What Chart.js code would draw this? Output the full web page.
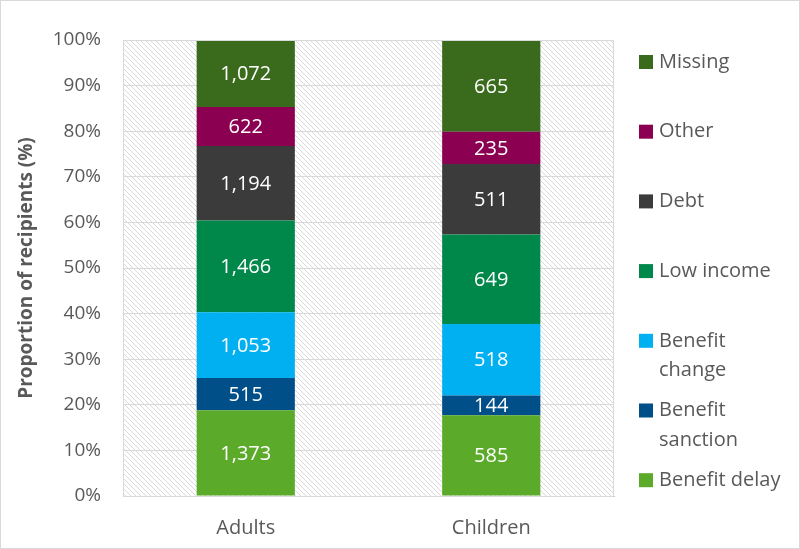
<!DOCTYPE html>
<html>
<head>
<meta charset="utf-8">
<script src="https://cdn.jsdelivr.net/npm/chart.js@4"></script>
<style>
  html, body { margin:0; padding:0; background:#fff; }
  #wrap { width:800px; height:549px; position:relative; }
</style>
</head>
<body>
<div id="wrap"><canvas id="chart"></canvas></div>
<script>
// ---------- DATA ----------
const groups = ["Adults", "Children"];
const reasons = ["Benefit delay", "Benefit sanction", "Benefit change", "Low income", "Debt", "Other", "Missing"];
const legendLines = [["Benefit delay"], ["Benefit", "sanction"], ["Benefit", "change"], ["Low income"], ["Debt"], ["Other"], ["Missing"]];
const adultCounts = [1373, 515, 1053, 1466, 1194, 622, 1072];
const childCounts = [585, 144, 518, 649, 511, 235, 665];
const colours = ["#5BAA2A", "#004F88", "#00B0F0", "#00874A", "#3B3B3B", "#8C0051", "#3A6B1C"];
const yTicks = [0, 10, 20, 30, 40, 50, 60, 70, 80, 90, 100];

const FONT = "'Open Sans', sans-serif";
const GREY = "#595959";

const adultTotal = adultCounts.reduce((a,b)=>a+b, 0);
const childTotal = childCounts.reduce((a,b)=>a+b, 0);

const datasets = reasons.map((r,i)=>({
  label: r,
  counts: [adultCounts[i], childCounts[i]],
  data: [adultCounts[i]/adultTotal*100, childCounts[i]/childTotal*100],
  backgroundColor: colours[i],
  borderWidth: 0,
  categoryPercentage: 1,
  barPercentage: 0.4
}));

// ---------- PLUGINS ----------
function hatchPattern(ctx) {
  const c = document.createElement("canvas");
  c.width = 5; c.height = 5;
  const p = c.getContext("2d");
  p.strokeStyle = "#d9d9d9";
  p.lineWidth = 1;
  p.beginPath();
  p.moveTo(0,0); p.lineTo(5,5);
  p.moveTo(-1,4); p.lineTo(1,6);
  p.moveTo(4,-1); p.lineTo(6,1);
  p.stroke();
  return ctx.createPattern(c, "repeat");
}

const backdrop = {
  id: "backdrop",
  beforeDraw(chart) {
    const {ctx, chartArea:a} = chart;
    ctx.save();
    ctx.fillStyle = "#fff";
    ctx.fillRect(0, 0, chart.width, chart.height);
    ctx.fillStyle = hatchPattern(ctx);
    ctx.fillRect(a.left, a.top, a.right-a.left, a.bottom-a.top);
    ctx.restore();
  },
  afterDraw(chart) {
    const {ctx, chartArea:a} = chart;
    ctx.save();
    ctx.strokeStyle = "#d9d9d9";
    ctx.lineWidth = 1;
    ctx.strokeRect(a.left+0.5, a.top+0.5, a.right-a.left-1, a.bottom-a.top);
    ctx.strokeRect(0.5, 0.5, chart.width-1, chart.height-1);
    ctx.restore();
  }
};

const segLabels = {
  id: "segLabels",
  afterDatasetsDraw(chart) {
    const ctx = chart.ctx;
    ctx.save();
    ctx.fillStyle = "#fff";
    ctx.font = "20px " + FONT;
    ctx.textAlign = "center";
    ctx.textBaseline = "middle";
    chart.data.datasets.forEach((ds,i)=>{
      chart.getDatasetMeta(i).data.forEach((bar,j)=>{
        ctx.fillText(ds.counts[j].toLocaleString("en-US"), bar.x, (bar.y+bar.base)/2 + 1);
      });
    });
    ctx.restore();
  }
};

const sideLegend = {
  id: "sideLegend",
  afterDraw(chart) {
    const ctx = chart.ctx;
    ctx.save();
    ctx.font = "20px " + FONT;
    ctx.textBaseline = "middle";
    const x = 639, top = 62, step = 69.7, lineH = 29.5;
    for (let k = 0; k < reasons.length; k++) {
      const i = reasons.length - 1 - k;
      const y = top + k*step;
      ctx.fillStyle = colours[i];
      ctx.fillRect(x, y-7, 14, 14);
      ctx.fillStyle = GREY;
      legendLines[i].forEach((t,l)=>ctx.fillText(t, x+20, y + l*lineH));
    }
    ctx.restore();
  }
};

// ---------- CHART ----------
new Chart(document.getElementById("chart"), {
  type: "bar",
  data: { labels: groups, datasets: datasets },
  options: {
    responsive: true,
    maintainAspectRatio: false,
    animation: false,
    layout: { padding: { top: 40, right: 186, bottom: 0, left: 0 } },
    plugins: { legend: { display:false }, tooltip: { enabled:false } },
    scales: {
      x: {
        stacked: true,
        afterFit: axis => { axis.height = 53; },
        grid: { display:false },
        border: { color:"#bfbfbf" },
        ticks: { color:GREY, font:{ family:FONT, size:20 }, padding:12 }
      },
      y: {
        stacked: true,
        min: 0, max: 100,
        afterFit: axis => { axis.width = 123; },
        afterBuildTicks: axis => { axis.ticks = yTicks.map(v=>({ value:v })); },
        grid: { color:"#d9d9d9", drawTicks:false },
        border: { display:false },
        ticks: { color:GREY, font:{ family:FONT, size:19 }, padding:22, callback: v => v + "%" },
        title: { display:true, text:"Proportion of recipients (%)", color:GREY, font:{ family:FONT, size:19, weight:"bold" }, padding:{ top:15, bottom:0 } }
      }
    }
  },
  plugins: [backdrop, segLabels, sideLegend]
});
</script>
</body>
</html>
